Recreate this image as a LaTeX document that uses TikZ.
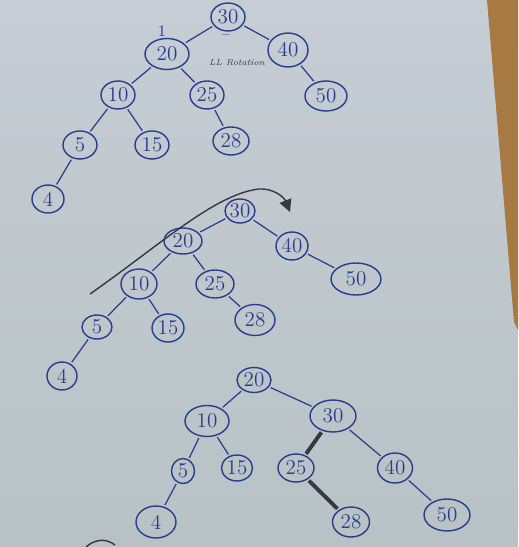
\documentclass[tikz,border=0pt]{standalone}
\usetikzlibrary{shapes.geometric, arrows.meta, positioning}

\definecolor{paperTop}{RGB}{198,205,213}
\definecolor{paperBot}{RGB}{184,194,197}
\definecolor{wood}{RGB}{166,122,66}
\definecolor{ink}{RGB}{42,60,140}
\definecolor{pencil}{RGB}{52,56,66}

\begin{document}
\begin{tikzpicture}[x=0.02cm, y=-0.02cm]
    % --- Style Definitions ---
    \tikzset{
        tree node/.style={
            ellipse,
            draw=ink,
            line width=0.8pt,
            text=ink,
            font=\large,
            inner sep=0pt,
            minimum width=0.68cm,
            minimum height=0.56cm
        },
        big node/.style={
            minimum width=0.88cm,
            minimum height=0.62cm
        },
        small node/.style={
            minimum width=0.6cm,
            minimum height=0.48cm
        },
        tree edge/.style={
            draw=ink,
            line width=0.7pt,
            shorten <=1pt,
            shorten >=1pt
        },
        heavy edge/.style={
            draw=pencil,
            line width=2.2pt,
            shorten <=1pt,
            shorten >=1pt
        },
        note text/.style={
            text=ink,
            font=\small,
            inner sep=0pt
        },
        rotate arrow/.style={
            draw=pencil,
            line width=0.8pt,
            -{Triangle[length=7pt, width=7pt]}
        }
    }

    % --- 0. Paper and Table Edge ---
    \useasboundingbox (0,0) rectangle (518,547);
    \fill[top color=paperTop, bottom color=paperBot] (0,0) rectangle (518,547);
    \fill[wood] (487,0) -- (518,0) -- (518,330) -- (514,322) -- cycle;

    % --- 1. First Tree (unbalanced) ---
    \node[tree node] (a30) at (228,17) {30};
    \node[tree node, big node] (a20) at (167,54) {20};
    \node[tree node, minimum width=0.8cm, minimum height=0.68cm] (a40) at (288,50) {40};
    \node[tree node] (a10) at (118,95) {10};
    \node[tree node] (a25) at (207,95) {25};
    \node[tree node, minimum width=0.84cm, minimum height=0.6cm] (a50) at (326,96) {50};
    \node[tree node] (a5) at (80,145) {5};
    \node[tree node] (a15) at (152,145) {15};
    \node[tree node, minimum width=0.72cm] (a28) at (231,141) {28};
    \node[tree node, minimum width=0.64cm] (a4) at (48,199) {4};

    \draw[tree edge] (a30) -- (a20);
    \draw[tree edge] (a30) -- (a40);
    \draw[tree edge] (a20) -- (a10);
    \draw[tree edge] (a20) -- (a25);
    \draw[tree edge] (a40) -- (a50);
    \draw[tree edge] (a10) -- (a5);
    \draw[tree edge] (a10) -- (a15);
    \draw[tree edge] (a25) -- (a28);
    \draw[tree edge] (a5) -- (a4);

    % balance marks and note
    \node[note text] (bal20) at (162,31) {1};
    \node[note text] (bal30) at (226,37) {--};
    \node[note text, text=pencil, font=\tiny\itshape] (lbl_ll) at (237,63) {LL Rotation};

    % --- 2. Second Tree (rotation marked) ---
    \node[tree node, small node] (b30) at (240,211) {30};
    \node[tree node, minimum width=0.76cm, minimum height=0.52cm] (b20) at (183,241) {20};
    \node[tree node, minimum width=0.64cm, minimum height=0.56cm] (b40) at (292,246) {40};
    \node[tree node, minimum width=0.72cm, minimum height=0.6cm] (b10) at (139,284) {10};
    \node[tree node, minimum width=0.76cm] (b25) at (215,284) {25};
    \node[tree node, minimum width=1cm, minimum height=0.64cm] (b50) at (356,279) {50};
    \node[tree node, small node] (b5) at (97,327) {5};
    \node[tree node, minimum width=0.64cm] (b15) at (168,328) {15};
    \node[tree node, minimum width=0.8cm, minimum height=0.62cm] (b28) at (255,320) {28};
    \node[tree node, small node, minimum height=0.56cm] (b4) at (62,376) {4};

    \draw[tree edge] (b30) -- (b20);
    \draw[tree edge] (b30) -- (b40);
    \draw[tree edge] (b20) -- (b10);
    \draw[tree edge] (b20) -- (b25);
    \draw[tree edge] (b40) -- (b50);
    \draw[tree edge] (b10) -- (b5);
    \draw[tree edge] (b10) -- (b15);
    \draw[tree edge] (b25) -- (b28);
    \draw[tree edge] (b5) -- (b4);

    % rotation stroke
    \coordinate (rot_start) at (90,294);
    \coordinate (rot_end) at (290,212);
    \draw[rotate arrow] (rot_start) .. controls (160,245) and (215,194) .. (259,189)
        .. controls (273,188) and (284,197) .. (rot_end);

    % --- 3. Third Tree (balanced) ---
    \node[tree node, minimum width=0.68cm, minimum height=0.5cm] (c20) at (254,380) {20};
    \node[tree node, big node] (c10) at (207,421) {10};
    \node[tree node, minimum width=0.92cm, minimum height=0.64cm] (c30) at (333,416) {30};
    \node[tree node, minimum width=0.46cm, minimum height=0.5cm] (c5) at (183,471) {5};
    \node[tree node, minimum width=0.62cm, minimum height=0.52cm] (c15) at (237,468) {15};
    \node[tree node, minimum width=0.72cm] (c25) at (296,468) {25};
    \node[tree node, minimum width=0.7cm, minimum height=0.6cm] (c40) at (395,468) {40};
    \node[tree node, minimum width=0.8cm, minimum height=0.64cm] (c4) at (156,522) {4};
    \node[tree node, minimum width=0.74cm, minimum height=0.6cm] (c28) at (351,522) {28};
    \node[tree node, minimum width=0.92cm, minimum height=0.64cm] (c50) at (447,515) {50};

    \draw[tree edge] (c20) -- (c10);
    \draw[tree edge] (c20) -- (c30);
    \draw[tree edge] (c10) -- (c5);
    \draw[tree edge] (c10) -- (c15);
    \draw[heavy edge] (c30) -- (c25);
    \draw[tree edge] (c30) -- (c40);
    \draw[tree edge] (c5) -- (c4);
    \draw[heavy edge] (c25) -- (c28);
    \draw[tree edge] (c40) -- (c50);

    % cut-off stroke at the bottom edge
    \coordinate (cut_start) at (86,547);
    \coordinate (cut_end) at (115,545);
    \draw[draw=pencil, line width=0.8pt] (cut_start) .. controls (95,539) and (106,538) .. (cut_end);

\end{tikzpicture}
\end{document}
